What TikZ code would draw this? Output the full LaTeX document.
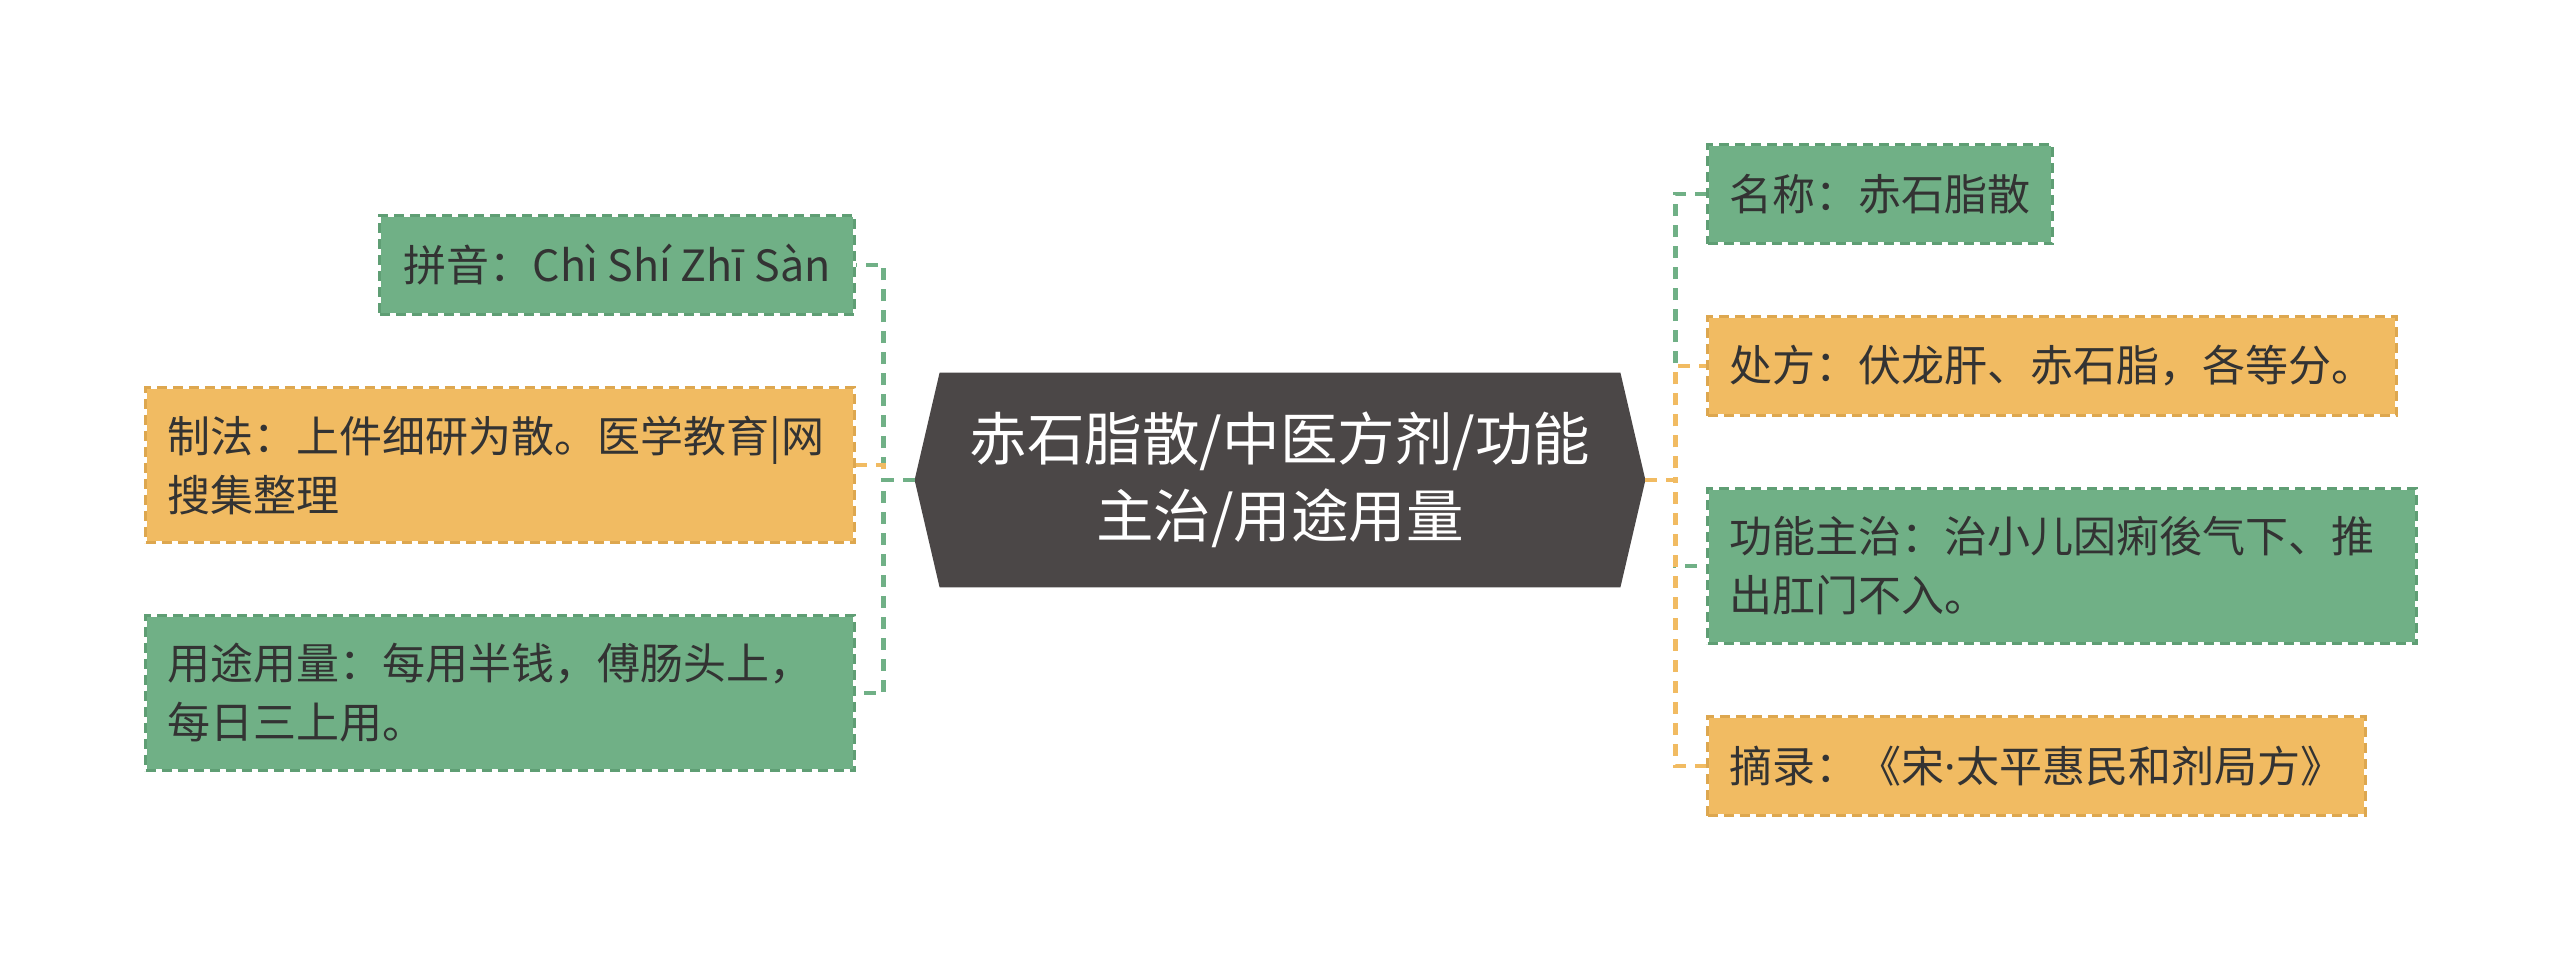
\documentclass[tikz,border=0pt]{standalone}
\usepackage{fontspec}
\setmainfont{Noto Sans CJK SC}
\newfontfamily\dotfont{Noto Sans}
\definecolor{MapGreen}{HTML}{70B086}
\definecolor{MapGreenDark}{HTML}{5F9E74}
\definecolor{MapOrange}{HTML}{F1BB62}
\definecolor{MapOrangeDark}{HTML}{DDA74F}
\definecolor{MapHub}{HTML}{4B4747}
\definecolor{MapText}{HTML}{333333}
\usetikzlibrary{positioning, backgrounds}
\tikzset{
    % Text of all nodes
    every node/.style={font=\fontsize{21.5pt}{29.5pt}\selectfont, text=MapText},
    % Topic box
    leaf/.style={
        rectangle,
        draw=white,
        line width=1.5pt,
        inner xsep=11pt,
        inner ysep=0pt,
        minimum height=49.5pt,
        align=left
    },
    % Green topic
    leafgreen/.style={
        leaf,
        fill=MapGreen,
        postaction={draw=MapGreenDark, dash pattern=on 5pt off 3pt, line width=1.5pt}
    },
    % Orange topic
    leaforange/.style={
        leaf,
        fill=MapOrange,
        postaction={draw=MapOrangeDark, dash pattern=on 5pt off 3pt, line width=1.5pt}
    },
    % Two line topic
    twoline/.style={
        text width=332.5pt,
        minimum height=77.5pt
    },
    % Central topic
    hub/.style={
        rectangle,
        minimum width=340pt,
        minimum height=107pt,
        align=center,
        text=white,
        font=\fontsize{28.75pt}{38.5pt}\selectfont
    },
    % Connector style
    link/.style={
        dash pattern=on 6pt off 4.5pt,
        line width=2.25pt
    }
}
\begin{document}
\begin{tikzpicture}[x=0.5pt, y=0.5pt, node distance=35pt]
    \useasboundingbox (0,0) rectangle (2560,-960);

    \node (hub) [hub] at (1280,-480) {赤石脂散/中医方剂/功能\\主治/用途用量};
    \coordinate (hubL) at ([xshift=-12.5pt]hub.west);
    \coordinate (hubR) at ([xshift=12.5pt]hub.east);

    % Left side
    \node (pinyin) [leafgreen, inner xsep=12pt, anchor=north east] at (856,-214) {拼音：Chì Shí Zhī Sàn};
    \node (zhifa) [leaforange, twoline, below=of pinyin.south east, anchor=north east] {制法：上件细研为散。医学教育|网\\搜集整理};
    \node (yongtu) [leafgreen, twoline, below=of zhifa.south east, anchor=north east] {用途用量：每用半钱，傅肠头上，\\每日三上用。};

    % Right side
    \node (mingcheng) [leafgreen, anchor=north west] at (1706,-143) {名称：赤石脂散};
    \node (chufang) [leaforange, below=of mingcheng.south west, anchor=north west] {处方：伏龙肝、赤石脂，各等分。};
    \node (gongneng) [leafgreen, twoline, below=of chufang.south west, anchor=north west] {功能主治：治小儿因痢後气下、推\\出肛门不入。};
    \node (zhailu) [leaforange, below=of gongneng.south west, anchor=north west] {摘录：《宋{\dotfont ·}太平惠民和剂局方》};

    \begin{scope}[on background layer]
        \fill [white] (0,0) rectangle (2560,-960);
        \fill [MapHub] (hubL) -- (hub.north west) -- (hub.north east) -- (hubR)
            -- (hub.south east) -- (hub.south west) -- cycle;
    \end{scope}

    % Connectors
    \draw [link, MapGreen] (hubL) -- ++(-31,0) |- (pinyin.east);
    \draw [link, MapOrange] (hubL) -- ++(-31,0) |- (zhifa.east);
    \draw [link, MapGreen] (hubL) -- ++(-31,0) |- (yongtu.east);

    \draw [link, MapGreen] (hubR) -- ++(30,0) |- (mingcheng.west);
    \draw [link, MapOrange] (hubR) -- ++(30,0) |- (chufang.west);
    \draw [link, MapGreen] (hubR) -- ++(30,0) |- (gongneng.west);
    \draw [link, MapOrange] (hubR) -- ++(30,0) |- (zhailu.west);
\end{tikzpicture}
\end{document}
